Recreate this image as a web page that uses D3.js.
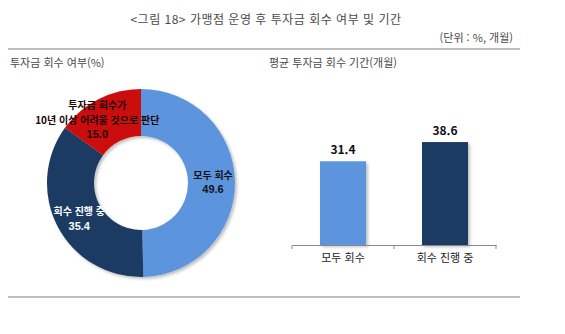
<!DOCTYPE html>
<html lang="ko">
<head>
<meta charset="utf-8">
<title>가맹점 운영 후 투자금 회수 여부 및 기간</title>
<script src="https://cdn.jsdelivr.net/npm/d3@7"></script>
<style>
  body { margin: 0; background: #fff; }
  text { font-family: "Noto Sans CJK KR", "Liberation Sans", sans-serif; }
</style>
</head>
<body>
<script>
// data
var pieCategories = ["모두 회수", "회수 진행 중", "투자금 회수가|10년 이상 어려울 것으로 판단"];
var pieValues = [49.6, 35.4, 15.0];
var barCategories = ["모두 회수", "회수 진행 중"];
var barValues = [31.4, 38.6];

var w = 565, h = 334;
var svg = d3.select("body").append("svg").attr("width", w).attr("height", h);

var defs = svg.append("defs");
var f = defs.append("filter").attr("id", "shadow").attr("x", "-20%").attr("y", "-20%").attr("width", "140%").attr("height", "140%");
f.append("feDropShadow").attr("dx", 2).attr("dy", 2).attr("stdDeviation", 1.5).attr("flood-color", "#000").attr("flood-opacity", 0.25);

// headings
svg.append("text").attr("x", 266).attr("y", 24).attr("text-anchor", "middle")
  .attr("font-size", 12).attr("letter-spacing", 0.5).attr("fill", "#4a4a4a").text("<그림 18> 가맹점 운영 후 투자금 회수 여부 및 기간");
svg.append("text").attr("x", 513).attr("y", 42).attr("text-anchor", "end")
  .attr("font-size", 11).attr("fill", "#4a4a4a").text("(단위 : %, 개월)");
svg.append("line").attr("x1", 8).attr("x2", 520).attr("y1", 49).attr("y2", 49).attr("stroke", "#a8a8a8").attr("stroke-width", 1.5);
svg.append("line").attr("x1", 8).attr("x2", 520).attr("y1", 297).attr("y2", 297).attr("stroke", "#a8a8a8").attr("stroke-width", 1.5);
svg.append("text").attr("x", 10).attr("y", 67).attr("font-size", 11).attr("fill", "#4a4a4a").text("투자금 회수 여부(%)");
svg.append("text").attr("x", 269).attr("y", 67).attr("font-size", 11).attr("fill", "#4a4a4a").text("평균 투자금 회수 기간(개월)");

// donut
var pieColors = ["#5b95de", "#1f3b64", "#cc0c0c"];
var cx = 141, cy = 183, rOuter = 94, rInner = 47;
var pie = d3.pie().sort(null).value(function(d) { return d; });
var arcs = pie(pieValues);
var arc = d3.arc().innerRadius(rInner).outerRadius(rOuter);
var labelArc = d3.arc().innerRadius(72).outerRadius(72);

var g = svg.append("g").attr("transform", "translate(" + cx + "," + cy + ")");
g.append("g").attr("filter", "url(#shadow)")
  .selectAll("path").data(arcs).enter().append("path")
  .attr("d", arc)
  .attr("fill", function(d, i) { return pieColors[i]; });

var labelFill = ["#111", "#fff", "#1a0505"];
var nudge = [[0, 0], [2, 2], [-11, 1]];
arcs.forEach(function(d, i) {
  var c = labelArc.centroid(d);
  var lines = pieCategories[i].split("|").concat([d3.format(".1f")(pieValues[i])]);
  var t = g.append("text").attr("text-anchor", "middle")
    .attr("font-size", 10).attr("font-weight", "bold").attr("fill", labelFill[i]);
  var x0 = c[0] + nudge[i][0];
  var y0 = c[1] + nudge[i][1] - (lines.length - 1) * 14.5 / 2 + 4;
  lines.forEach(function(s, j) {
    t.append("tspan").attr("x", x0).attr("y", y0 + j * 14.5)
      .attr("font-family", j === lines.length - 1 ? "Liberation Sans" : null)
      .attr("font-size", j === lines.length - 1 ? 11 : null)
      .text(s);
  });
});

// bars
var bx0 = 292, bx1 = 496, by0 = 125, by1 = 245;
var xScale = d3.scaleBand().domain(barCategories).range([bx0, bx1]).paddingInner(0).paddingOuter(0);
var yScale = d3.scaleLinear().domain([0, 45]).range([by1, by0]);
var barColors = ["#5b95de", "#1f3b64"];
var bw = 46;

svg.append("g").attr("filter", "url(#shadow)")
  .selectAll("rect").data(barValues).enter().append("rect")
  .attr("x", function(d, i) { return xScale(barCategories[i]) + (xScale.bandwidth() - bw) / 2; })
  .attr("y", function(d) { return yScale(d); })
  .attr("width", bw)
  .attr("height", function(d) { return by1 - yScale(d); })
  .attr("fill", function(d, i) { return barColors[i]; });

svg.selectAll(".val").data(barValues).enter().append("text")
  .attr("x", function(d, i) { return xScale(barCategories[i]) + xScale.bandwidth() / 2; })
  .attr("y", function(d) { return yScale(d) - 7; })
  .attr("text-anchor", "middle").attr("font-family", "Liberation Sans")
  .attr("font-size", 12).attr("font-weight", "bold").attr("fill", "#111")
  .text(function(d) { return d3.format(".1f")(d); });

var xAxis = d3.axisBottom(xScale).tickSize(0).tickPadding(9);
var ax = svg.append("g").attr("transform", "translate(0," + by1 + ")").call(xAxis);
ax.select(".domain").attr("stroke", "#888");
ax.selectAll("text").attr("font-size", 11).attr("fill", "#222")
  .attr("font-family", "Noto Sans CJK KR");
// category separators
var seps = [bx0].concat(barCategories.map(function(c) { return xScale(c) + xScale.bandwidth(); }));
ax.selectAll(".sep").data(seps).enter().append("line")
  .attr("x1", function(d) { return d; }).attr("x2", function(d) { return d; })
  .attr("y1", 0).attr("y2", 4).attr("stroke", "#888");
</script>
</body>
</html>
